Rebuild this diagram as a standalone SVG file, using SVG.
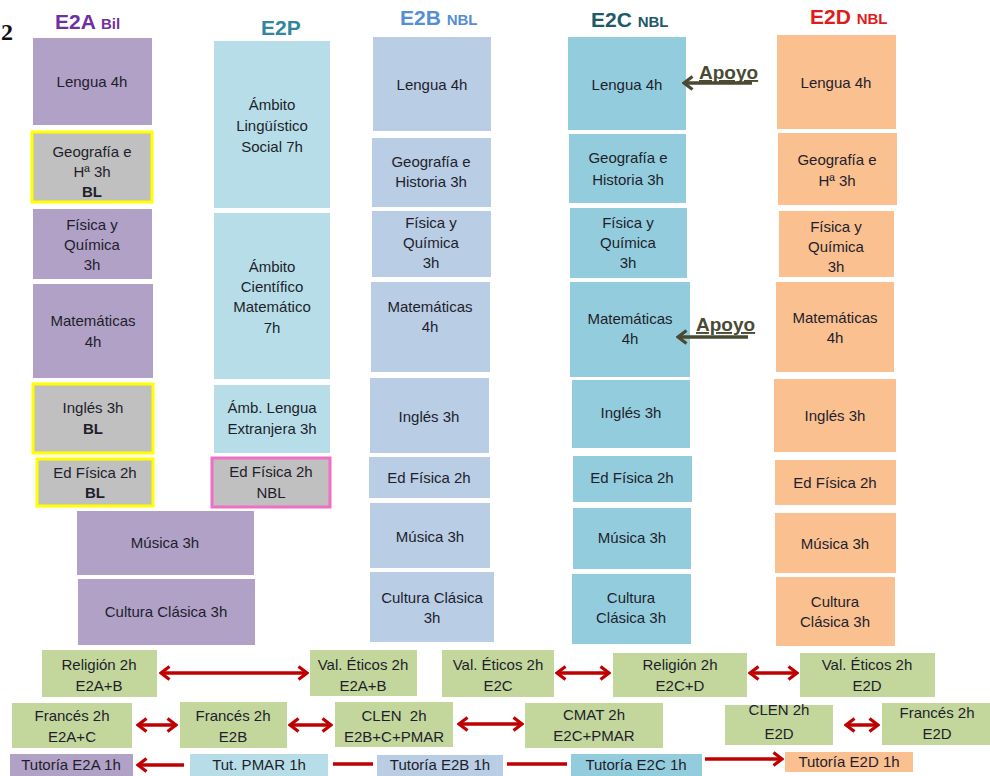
<svg xmlns="http://www.w3.org/2000/svg" width="990" height="776" viewBox="0 0 990 776">
<style>
text{font-family:"Liberation Sans",Arial,sans-serif;font-size:15px;fill:#1e1e2c;text-anchor:middle}
.h{font-weight:bold;font-size:21px;text-anchor:start}
.hs{font-size:15px}
.b{font-weight:bold}
.pu{fill:#b1a1c7}
.gy{fill:#c0c0c0;stroke:#ffff00;stroke-width:3}
.gp{fill:#c0c0c0;stroke:#ee6fc3;stroke-width:3}
.lb{fill:#b7dee8}
.sb{fill:#b9cde5}
.tq{fill:#93cddd}
.or{fill:#fac090}
.gr{fill:#c3d69b}
.ra{stroke:#c00000;stroke-width:3.5;fill:none}
.ap{stroke:#4a4a32;stroke-width:3.5;fill:none}
.apt{font-weight:bold;font-size:19px;fill:#4a4a32;text-decoration:underline;text-anchor:start}
.pre{white-space:pre}
</style>
<defs>
<marker id="rh" viewBox="0 0 12 16" refX="10" refY="8" markerWidth="12" markerHeight="16" markerUnits="userSpaceOnUse" orient="auto-start-reverse">
<path d="M1.5,1.5 L10,8 L1.5,14.5" fill="none" stroke="#c00000" stroke-width="3.2"/>
</marker>
<marker id="gh" viewBox="0 0 12 16" refX="10" refY="8" markerWidth="12" markerHeight="16" markerUnits="userSpaceOnUse" orient="auto-start-reverse">
<path d="M1.5,1.5 L10,8 L1.5,14.5" fill="none" stroke="#4a4a32" stroke-width="3.2"/>
</marker>
</defs>
<rect width="990" height="776" fill="#ffffff"/>
<text x="1" y="40" style="font-family:'Liberation Serif',serif;font-weight:bold;font-size:24px;fill:#111;text-anchor:start">2</text>

<g id="headers">
<text class="h" x="55" y="29" style="fill:#7030a0">E2A <tspan class="hs">Bil</tspan></text>
<text class="h" x="261" y="35" style="fill:#31859c">E2P</text>
<text class="h" x="400" y="25" style="fill:#558ed5">E2B <tspan class="hs">NBL</tspan></text>
<text class="h" x="591" y="27" style="fill:#215968">E2C <tspan class="hs">NBL</tspan></text>
<text class="h" x="810" y="24" style="fill:#e01b1b">E2D <tspan class="hs">NBL</tspan></text>
</g>

<!-- E2A -->
<g id="a_lengua"><rect class="pu" x="33" y="38" width="119" height="87"/><text x="92" y="87">Lengua 4h</text></g>
<g id="a_geo"><rect class="gy" x="32" y="132" width="120" height="70"/><text x="92" y="157">Geografía e</text><text x="92" y="177">Hª 3h</text><text class="b" x="92" y="197">BL</text></g>
<g id="a_fq"><rect class="pu" x="33" y="209" width="119" height="70"/><text x="92" y="230">Física y</text><text x="92" y="250">Química</text><text x="92" y="270">3h</text></g>
<g id="a_mat"><rect class="pu" x="33" y="284" width="120" height="94"/><text x="93" y="326">Matemáticas</text><text x="93" y="347">4h</text></g>
<g id="a_ing"><rect class="gy" x="33" y="384" width="120" height="69"/><text x="93" y="413">Inglés 3h</text><text class="b" x="93" y="434">BL</text></g>
<g id="a_ef"><rect class="gy" x="37" y="459" width="116" height="47"/><text x="95" y="478">Ed Física 2h</text><text class="b" x="95" y="498">BL</text></g>
<g id="a_mus"><rect class="pu" x="77" y="511" width="177" height="64"/><text x="165" y="548">Música 3h</text></g>
<g id="a_cc"><rect class="pu" x="78" y="579" width="177" height="66"/><text x="166" y="617">Cultura Clásica 3h</text></g>

<!-- E2P -->
<g id="p_als"><rect class="lb" x="214" y="41" width="116" height="167"/><text x="272" y="110">Ámbito</text><text x="272" y="131">Lingüístico</text><text x="272" y="152">Social 7h</text></g>
<g id="p_acm"><rect class="lb" x="214" y="213" width="116" height="166"/><text x="272" y="272">Ámbito</text><text x="272" y="292">Científico</text><text x="272" y="312">Matemático</text><text x="272" y="333">7h</text></g>
<g id="p_ale"><rect class="lb" x="214" y="385" width="116" height="68"/><text x="272" y="413">Ámb. Lengua</text><text x="272" y="434">Extranjera 3h</text></g>
<g id="p_ef"><rect class="gp" x="212" y="458" width="118" height="49"/><text x="271" y="477">Ed Física 2h</text><text x="271" y="498">NBL</text></g>

<!-- E2B -->
<g id="b_lengua"><rect class="sb" x="373" y="37" width="118" height="94"/><text x="432" y="90">Lengua 4h</text></g>
<g id="b_geo"><rect class="sb" x="372" y="138" width="119" height="69"/><text x="431" y="167">Geografía e</text><text x="431" y="187">Historia 3h</text></g>
<g id="b_fq"><rect class="sb" x="372" y="211" width="119" height="66"/><text x="431" y="228">Física y</text><text x="431" y="248">Química</text><text x="431" y="268">3h</text></g>
<g id="b_mat"><rect class="sb" x="371" y="282" width="119" height="90"/><text x="430" y="312">Matemáticas</text><text x="430" y="332">4h</text></g>
<g id="b_ing"><rect class="sb" x="370" y="378" width="119" height="75"/><text x="429" y="422">Inglés 3h</text></g>
<g id="b_ef"><rect class="sb" x="369" y="457" width="121" height="41"/><text x="429" y="483">Ed Física 2h</text></g>
<g id="b_mus"><rect class="sb" x="370" y="503" width="120" height="65"/><text x="430" y="542">Música 3h</text></g>
<g id="b_cc"><rect class="sb" x="370" y="572" width="124" height="70"/><text x="432" y="603">Cultura Clásica</text><text x="432" y="623">3h</text></g>

<!-- E2C -->
<g id="c_lengua"><rect class="tq" x="568" y="37" width="118" height="93"/><text x="627" y="90">Lengua 4h</text></g>
<g id="c_geo"><rect class="tq" x="569" y="134" width="117" height="69"/><text x="628" y="163">Geografía e</text><text x="628" y="185">Historia 3h</text></g>
<g id="c_fq"><rect class="tq" x="570" y="208" width="117" height="70"/><text x="628" y="228">Física y</text><text x="628" y="248">Química</text><text x="628" y="268">3h</text></g>
<g id="c_mat"><rect class="tq" x="570" y="282" width="120" height="95"/><text x="630" y="324">Matemáticas</text><text x="630" y="344">4h</text></g>
<g id="c_ing"><rect class="tq" x="572" y="380" width="118" height="68"/><text x="631" y="418">Inglés 3h</text></g>
<g id="c_ef"><rect class="tq" x="573" y="456" width="119" height="46"/><text x="632" y="483">Ed Física 2h</text></g>
<g id="c_mus"><rect class="tq" x="573" y="508" width="118" height="61"/><text x="632" y="543">Música 3h</text></g>
<g id="c_cc"><rect class="tq" x="572" y="574" width="119" height="70"/><text x="631" y="603">Cultura</text><text x="631" y="623">Clásica 3h</text></g>

<!-- E2D -->
<g id="d_lengua"><rect class="or" x="777" y="35" width="119" height="94"/><text x="836" y="88">Lengua 4h</text></g>
<g id="d_geo"><rect class="or" x="778" y="133" width="119" height="72"/><text x="837" y="165">Geografía e</text><text x="837" y="186">Hª 3h</text></g>
<g id="d_fq"><rect class="or" x="779" y="211" width="115" height="66"/><text x="836" y="232">Física y</text><text x="836" y="252">Química</text><text x="836" y="272">3h</text></g>
<g id="d_mat"><rect class="or" x="776" y="282" width="118" height="90"/><text x="835" y="323">Matemáticas</text><text x="835" y="343">4h</text></g>
<g id="d_ing"><rect class="or" x="774" y="379" width="122" height="73"/><text x="835" y="421">Inglés 3h</text></g>
<g id="d_ef"><rect class="or" x="775" y="460" width="121" height="45"/><text x="835" y="488">Ed Física 2h</text></g>
<g id="d_mus"><rect class="or" x="775" y="513" width="121" height="60"/><text x="835" y="549">Música 3h</text></g>
<g id="d_cc"><rect class="or" x="776" y="577" width="119" height="69"/><text x="835" y="607">Cultura</text><text x="835" y="627">Clásica 3h</text></g>

<!-- Apoyo labels -->
<g id="apoyo1"><text class="apt" x="699" y="79">Apoyo</text></g>
<g id="apoyo2"><text class="apt" x="696" y="331">Apoyo</text></g>

<!-- Bottom optional subjects -->
<g id="rel_ab"><rect class="gr" x="42" y="650" width="115" height="47"/><text x="99" y="670">Religión 2h</text><text x="99" y="691">E2A+B</text></g>
<g id="val_ab"><rect class="gr" x="310" y="650" width="107" height="46"/><text x="363" y="670">Val. Éticos 2h</text><text x="363" y="691">E2A+B</text></g>
<g id="val_c"><rect class="gr" x="442" y="650" width="112" height="47"/><text x="498" y="670">Val. Éticos 2h</text><text x="498" y="691">E2C</text></g>
<g id="rel_cd"><rect class="gr" x="613" y="653" width="134" height="44"/><text x="680" y="670">Religión 2h</text><text x="680" y="691">E2C+D</text></g>
<g id="val_d"><rect class="gr" x="800" y="653" width="135" height="44"/><text x="867" y="670">Val. Éticos 2h</text><text x="867" y="691">E2D</text></g>

<g id="fr_ac"><rect class="gr" x="12" y="703" width="120" height="45"/><text x="72" y="721">Francés 2h</text><text x="72" y="742">E2A+C</text></g>
<g id="fr_b"><rect class="gr" x="180" y="702" width="107" height="46"/><text x="233" y="721">Francés 2h</text><text x="233" y="742">E2B</text></g>
<g id="clen_bc"><rect class="gr" x="335" y="702" width="118" height="45"/><text class="pre" x="394" y="721">CLEN  2h</text><text x="394" y="742">E2B+C+PMAR</text></g>
<g id="cmat"><rect class="gr" x="525" y="703" width="138" height="45"/><text x="594" y="720">CMAT 2h</text><text x="594" y="741">E2C+PMAR</text></g>
<g id="clen_d"><rect class="gr" x="725" y="705" width="108" height="40"/><text x="779" y="715">CLEN 2h</text><text x="779" y="739">E2D</text></g>
<g id="fr_d"><rect class="gr" x="882" y="703" width="108" height="42"/><text x="937" y="718">Francés 2h</text><text x="937" y="739">E2D</text></g>

<g id="tut_a"><rect class="pu" x="10" y="754" width="123" height="24"/><text x="71" y="770">Tutoría E2A 1h</text></g>
<g id="tut_p"><rect class="lb" x="190" y="754" width="138" height="24"/><text x="259" y="770">Tut. PMAR 1h</text></g>
<g id="tut_b"><rect class="sb" x="377" y="755" width="126" height="23"/><text x="440" y="770">Tutoría E2B 1h</text></g>
<g id="tut_c"><rect class="tq" x="571" y="754" width="131" height="24"/><text x="636" y="770">Tutoría E2C 1h</text></g>
<g id="tut_d"><rect class="or" x="785" y="752" width="128" height="20"/><text x="849" y="767">Tutoría E2D 1h</text></g>

<g id="connectors">
<line class="ap" x1="752" y1="83" x2="684" y2="83" marker-end="url(#gh)"/>
<line class="ap" x1="748" y1="337" x2="678" y2="337" marker-end="url(#gh)"/>

<line class="ra" x1="161" y1="673" x2="307" y2="673" marker-start="url(#rh)" marker-end="url(#rh)"/>
<line class="ra" x1="557" y1="673" x2="609" y2="673" marker-start="url(#rh)" marker-end="url(#rh)"/>
<line class="ra" x1="750" y1="673" x2="797" y2="673" marker-start="url(#rh)" marker-end="url(#rh)"/>

<line class="ra" x1="138" y1="725" x2="176" y2="725" marker-start="url(#rh)" marker-end="url(#rh)"/>
<line class="ra" x1="290" y1="725" x2="331" y2="725" marker-start="url(#rh)" marker-end="url(#rh)"/>
<line class="ra" x1="459" y1="724" x2="522" y2="724" marker-start="url(#rh)" marker-end="url(#rh)"/>
<line class="ra" x1="846" y1="725" x2="878" y2="725" marker-start="url(#rh)" marker-end="url(#rh)"/>

<line class="ra" x1="184" y1="765" x2="138" y2="765" marker-end="url(#rh)"/>
<line class="ra" x1="333" y1="764" x2="373" y2="764"/>
<line class="ra" x1="507" y1="764" x2="567" y2="764"/>
<line class="ra" x1="705" y1="759" x2="782" y2="759" marker-end="url(#rh)"/>
</g>
</svg>
